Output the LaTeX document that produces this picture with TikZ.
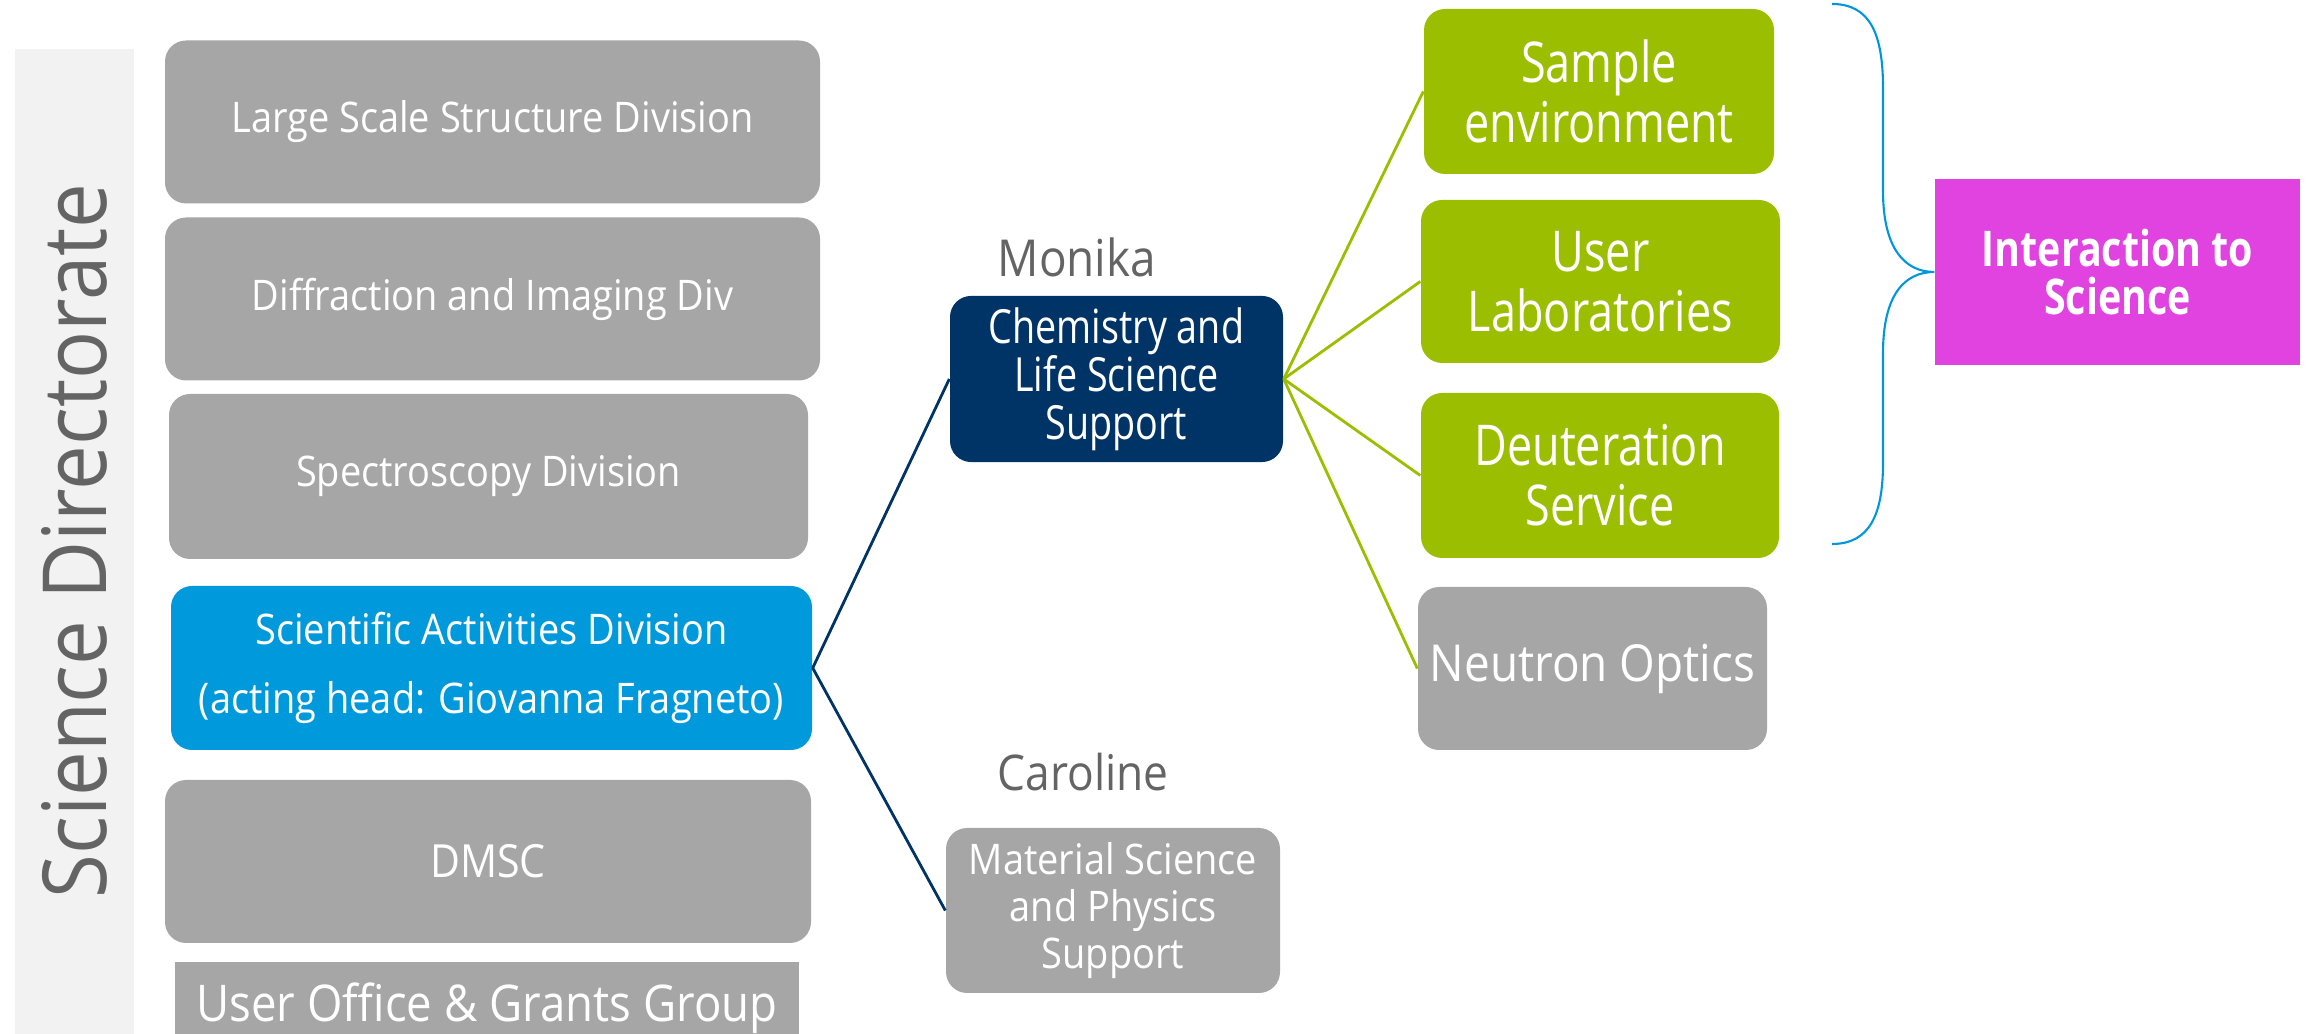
\documentclass[tikz,border=0pt]{standalone}
\usepackage{fontspec}
\setmainfont{Open Sans}[FakeStretch=0.9]
\newfontfamily\narrowfont{Open Sans}[FakeStretch=0.8]
\usepackage{xcolor}
\usepackage{tikz}
\usetikzlibrary{positioning, calc}
\definecolor{divgray}{RGB}{166, 166, 166}
\definecolor{divblue}{RGB}{0, 153, 219}
\definecolor{navy}{RGB}{0, 51, 102}
\definecolor{leafgreen}{RGB}{155, 190, 0}
\definecolor{magenta}{RGB}{224, 67, 224}
\definecolor{sidegray}{RGB}{242, 242, 242}
\definecolor{namegray}{RGB}{100, 100, 100}
\definecolor{bracecolor}{RGB}{0, 150, 220}

\begin{document}
\begin{tikzpicture}[
    division/.style={fill=divgray, rounded corners=6pt, minimum width=6.5cm, minimum height=1.63cm, text=white, align=center, font=\fontsize{12}{16}\selectfont},
    support/.style={fill=divgray, rounded corners=6pt, minimum width=3.34cm, minimum height=1.65cm, text=white, align=center, font=\fontsize{12}{13.5}\selectfont},
    service/.style={fill=leafgreen, rounded corners=6pt, minimum width=3.55cm, minimum height=1.64cm, text=white, align=center, font=\narrowfont\fontsize{16}{17}\selectfont},
    person/.style={text=namegray, anchor=west, inner sep=0pt, font=\fontsize{14.5}{18}\selectfont},
    navyline/.style={draw=navy, line width=0.8pt},
    greenline/.style={draw=leafgreen, line width=0.8pt}
]
    \useasboundingbox (0, 0) rectangle (23.07, 10.34);

    % Directorate side bar
    \fill[sidegray] (0.15, -0.1) rectangle (1.34, 9.85);
    \node[rotate=90, text=namegray, font=\fontsize{25.2}{28}\selectfont] (sd) at (0.74, 4.93) {Science Directorate};

    % Divisions
    \node[division, minimum width=6.55cm] (lsd) at (4.925, 9.12) {Large Scale Structure Division};
    \node[division, minimum width=6.55cm] (dif) at (4.925, 7.35) {Diffraction and Imaging Div};
    \node[division, minimum width=6.39cm, minimum height=1.65cm] (spec) at (4.885, 5.575) {Spectroscopy Division};
    \node[division, fill=divblue, minimum width=6.41cm, minimum height=1.64cm, font=\fontsize{12}{19.5}\selectfont] (sad) at (4.915, 3.66) {Scientific Activities Division\\(acting head: Giovanna Fragneto)};
    \node[division, minimum width=6.46cm, font=\fontsize{13}{16}\selectfont] (dmsc) at (4.88, 1.725) {DMSC};
    \node[fill=divgray, minimum width=6.24cm, minimum height=0.92cm, text=white, font=\fontsize{14.4}{18}\selectfont] (uog) at (4.87, 0.26) {User Office \& Grants Group};

    % Support groups
    \node[person] (monika) at (9.97, 7.77) {Monika};
    \node[support, fill=navy, minimum width=3.33cm, minimum height=1.64cm, font=\narrowfont\fontsize{13.4}{13.6}\selectfont] (chem) at (11.165, 6.55) {Chemistry and\\Life Science\\Support};
    \node[person, font=\fontsize{14}{18}\selectfont] (caroline) at (9.97, 2.62) {Caroline};
    \node[support] (mat) at (11.13, 1.235) {Material Science\\and Physics\\Support};

    % Services
    \node[service, minimum width=3.50cm, minimum height=1.65cm] (samp) at (15.99, 9.425) {Sample\\environment};
    \node[service, minimum width=3.59cm, minimum height=1.63cm] (ulab) at (16.005, 7.525) {User\\Laboratories};
    \node[service, minimum width=3.58cm, minimum height=1.65cm] (deut) at (16.0, 5.585) {Deuteration\\Service};
    \node[service, fill=divgray, minimum width=3.43cm, minimum height=1.63cm, font=\fontsize{14.5}{16}\selectfont] (nopt) at (15.925, 3.655) {Neutron Optics};

    % Interaction box and brace
    \node[fill=magenta, minimum width=3.65cm, minimum height=1.86cm, text=white, align=center, font=\narrowfont\bfseries\fontsize{14}{13.5}\selectfont] (inter) at (21.175, 7.62) {Interaction to\\Science};
    \coordinate (bracetop) at (18.32, 10.30);
    \coordinate (bracebot) at (18.32, 4.90);
    \draw[draw=bracecolor, line width=0.6pt] (bracetop) .. controls (18.70, 10.30) and (18.83, 10.0) .. (18.83, 9.46)
        -- (18.83, 8.43) .. controls (18.83, 7.85) and (19.05, 7.62) .. (inter.west)
        .. controls (19.05, 7.62) and (18.83, 7.40) .. (18.83, 6.81)
        -- (18.83, 5.71) .. controls (18.83, 5.20) and (18.70, 4.90) .. (bracebot);

    % Connections
    \draw[navyline] (sad.east) -- (chem.west);
    \draw[navyline] (sad.east) -- (mat.west);
    \draw[greenline] (chem.east) -- (samp.west);
    \draw[greenline] (chem.east) -- (ulab.west);
    \draw[greenline] (chem.east) -- (deut.west);
    \draw[greenline] (chem.east) -- (nopt.west);

\end{tikzpicture}
\end{document}
